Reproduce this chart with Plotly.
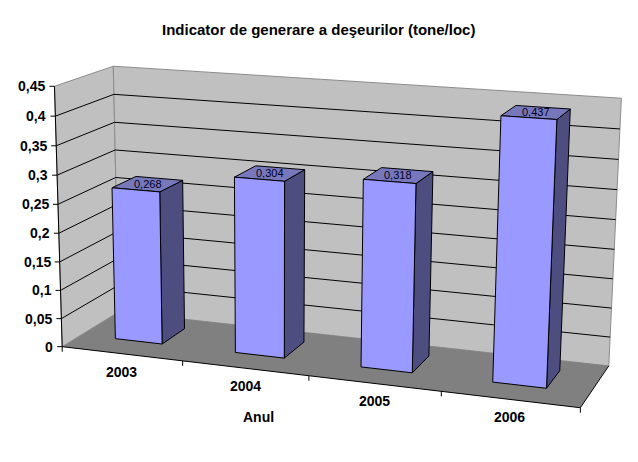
import numpy as np
import plotly.graph_objects as go

# ---- data ----
categories = ["2003", "2004", "2005", "2006"]
values = [0.268, 0.304, 0.318, 0.437]
value_labels = ["0,268", "0,304", "0,318", "0,437"]
value_ticks = [0, 0.05, 0.1, 0.15, 0.2, 0.25, 0.3, 0.35, 0.4, 0.45]
value_tick_labels = ["0", "0,05", "0,1", "0,15", "0,2", "0,25", "0,3", "0,35", "0,4", "0,45"]
title = "Indicator de generare a deşeurilor (tone/loc)"
x_title = "Anul"
vmax = 0.45

# ---- view of the 3D box: unit-cube corners -> picture position, solved into one camera ----
view_cube = [(0, 0, 0), (1, 0, 0), (0, 1, 0), (1, 1, 0), (0, 0, 1), (0, 1, 1), (1, 1, 1),
             (.25, 0, 0), (.5, 0, 0), (.75, 0, 0), (1, 1, 8 / 9), (0, 0, 2 / 3)]
view_pix = [(63, 345), (581, 409), (118, 315), (609, 363), (54, 87), (114, 65), (622, 98),
            (183, 359), (308, 376), (441, 393), (619, 130), (57, 175)]


def solve_camera(cube, pix):
    rows = []
    for (X, Y, Z), (u, v) in zip(cube, pix):
        rows.append([X, Y, Z, 1, 0, 0, 0, 0, -u * X, -u * Y, -u * Z, -u])
        rows.append([0, 0, 0, 0, X, Y, Z, 1, -v * X, -v * Y, -v * Z, -v])
    return np.linalg.svd(np.array(rows, float))[2][-1].reshape(3, 4)


P = solve_camera(view_cube, view_pix)


def proj(x, y, z):
    h = P @ np.array([x, y, z, 1.0])
    return h[0] / h[2], h[1] / h[2]


def z_of(v):
    return v / vmax


fig = go.Figure()


def poly(points, fill=None, line="black", width=1, closed=True):
    pts = [proj(*p) for p in points]
    if closed:
        pts.append(pts[0])
    fig.add_trace(go.Scatter(
        x=[p[0] for p in pts], y=[p[1] for p in pts], mode="lines",
        fill="toself" if fill else None, fillcolor=fill,
        line=dict(color=line, width=width) if line else dict(width=0),
        hoverinfo="skip", showlegend=False))


WALL, FLOOR, WALL_EDGE = "#C0C0C0", "#808080", "#8C8C8C"
FRONT, SIDE, TOP = "#9999FF", "#4D4D80", "#7777BB"

# walls and floor
poly([(0, 0, 0), (0, 0, 1), (0, 1, 1), (0, 1, 0)], WALL, WALL_EDGE)
poly([(0, 1, 0), (0, 1, 1), (1, 1, 1), (1, 1, 0)], WALL, WALL_EDGE)
poly([(0, 0, 0), (1, 0, 0), (1, 1, 0), (0, 1, 0)], FLOOR, None)

# gridlines
for t in value_ticks[1:-1]:
    z = z_of(t)
    poly([(0, 0, z), (0, 1, z), (1, 1, z)], None, "black", 1, closed=False)

# axis lines
poly([(0, 0, 0), (0, 0, 1)], None, "black", 1, closed=False)
poly([(0, 0, 0), (1, 0, 0), (1, 1, 0)], None, "black", 1, closed=False)

# bars
n = len(categories)
x_in, x_out = 0.29, 0.685
y_front, y_back = 0.33, 0.76
for i, v in enumerate(values):
    x0, x1 = (i + x_in) / n, (i + x_out) / n
    z = z_of(v)
    poly([(x1, y_front, 0), (x1, y_back, 0), (x1, y_back, z), (x1, y_front, z)], SIDE)
    poly([(x0, y_front, z), (x1, y_front, z), (x1, y_back, z), (x0, y_back, z)], TOP)
    poly([(x0, y_front, 0), (x1, y_front, 0), (x1, y_front, z), (x0, y_front, z)], FRONT)

# tick marks and labels
for t, lab in zip(value_ticks, value_tick_labels):
    px, py = proj(0, 0, z_of(t))
    fig.add_trace(go.Scatter(x=[px - 5, px], y=[py, py], mode="lines",
                             line=dict(color="black", width=1), hoverinfo="skip", showlegend=False))
    fig.add_annotation(x=px - 7, y=py, text="<b>" + lab + "</b>", showarrow=False, xanchor="right", yanchor="middle",
                       font=dict(family="Liberation Sans", size=14, color="black"))
for i in range(n + 1):
    px, py = proj(i / n, 0, 0)
    fig.add_trace(go.Scatter(x=[px, px], y=[py, py + 5], mode="lines",
                             line=dict(color="black", width=1), hoverinfo="skip", showlegend=False))
for i, c in enumerate(categories):
    px, py = proj((i + 0.5) / n, 0, 0)
    fig.add_annotation(x=px, y=py + 18, text="<b>" + c + "</b>", showarrow=False, xanchor="center", yanchor="middle",
                       font=dict(family="Liberation Sans", size=14, color="black"))
for i, (v, lab) in enumerate(zip(values, value_labels)):
    px, py = proj((i + (x_in + x_out) / 2) / n, (y_front + y_back) / 2, z_of(v))
    fig.add_annotation(x=px, y=py, text=lab, showarrow=False, xanchor="center", yanchor="middle",
                       font=dict(family="Liberation Sans", size=11, color="#000022"))

fig.add_annotation(x=318, y=29, text="<b>" + title + "</b>", showarrow=False, xanchor="center", yanchor="middle",
                   font=dict(family="Liberation Sans", size=15, color="black"))
fig.add_annotation(x=258, y=417, text="<b>" + x_title + "</b>", showarrow=False, xanchor="center", yanchor="middle",
                   font=dict(family="Liberation Sans", size=14, color="black"))

fig.update_layout(
    width=638, height=462, margin=dict(l=0, r=0, t=0, b=0), autosize=False,
    paper_bgcolor="white", plot_bgcolor="white", showlegend=False,
    xaxis=dict(range=[0, 638], visible=False, fixedrange=True),
    yaxis=dict(range=[462, 0], visible=False, fixedrange=True),
)
fig.write_html("out.html", config={"displayModeBar": False},
               post_script="document.body.style.margin='0';document.body.style.overflow='hidden';")
